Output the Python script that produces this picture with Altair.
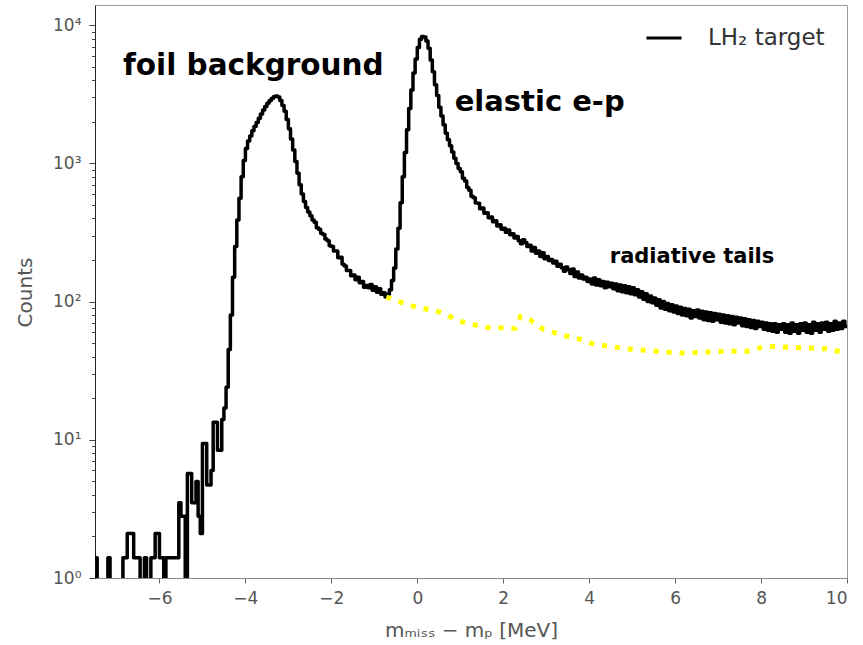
import altair as alt
import pandas as pd

# ---- data -------------------------------------------------------------
BIN_WIDTH = 0.05
# LH2 target histogram, counts per 0.05 MeV bin, in three contiguous segments
seg1_start = -7.5   # low-count region
seg1 = [
    1.4, 0, 0, 0, 0, 0, 1.4, 0, 0, 0,
    0, 0, 0, 1.4, 1.4, 2.1, 2.1, 2.1, 1.4, 1.4,
    1.4, 0, 0, 1.4, 0, 0, 1.4, 1.4, 2.1, 2.1,
    1.4, 1.4, 0, 1.4, 1.4, 1.4, 1.4, 1.4, 1.4, 3.5,
    2.8, 2.8, 0, 5.7, 5.7, 3.5, 3.5, 5.0, 2.8, 2.1,
    9.4, 9.4, 4.7, 4.7, 6.0, 13.4, 13.4, 8.4, 8.4, 14,
]
seg2_start = -4.5   # foil peak + elastic peak
seg2 = [
    17, 24, 45, 80, 150, 250, 390, 560, 800, 1050,
    1280, 1450, 1580, 1720, 1850, 1980, 2120, 2280, 2430, 2580,
    2720, 2840, 2950, 3040, 3080, 3020, 2850, 2620, 2380, 2080,
    1780, 1500, 1250, 1030, 850, 700, 600, 530, 480, 445,
    418, 390, 375, 342, 334, 312, 306, 284, 276, 254,
    250, 232, 232, 208, 209, 186, 181, 168, 168, 154,
    156, 144, 150, 137, 140, 127, 131, 126, 133, 121,
    128, 117, 124, 113, 116, 108, 113, 122, 142, 175,
    240, 340, 520, 800, 1200, 1750, 2500, 3400, 4500, 5700,
    6900, 7900, 8300, 8200, 7700, 6800, 5600, 4600, 3700, 3100,
    2550, 2200, 1900, 1650, 1480, 1340, 1210, 1090, 1000, 920,
    870, 780, 745, 668, 640, 578, 565, 518, 515, 470,
    475, 435, 440, 405, 410, 378, 385, 352, 360, 334,
]
seg3_start = 2.0    # radiative tail
seg3 = [
    340, 318, 330, 304, 310, 288, 296, 276, 262, 280,
    268, 250, 256, 232, 246, 224, 232, 212, 226, 204,
    212, 198, 202, 190, 196, 180, 186, 176, 166, 178,
    170, 160, 172, 152, 164, 148, 156, 146, 150, 140,
    146, 134, 148, 132, 144, 130, 140, 126, 138, 128,
    136, 124, 134, 120, 132, 118, 130, 116, 128, 114,
    126, 112, 122, 108, 118, 104, 114, 100, 110, 98,
    106, 94, 103, 90, 100, 88, 97, 86, 95, 84,
    93, 82, 91, 80, 89, 79, 88, 76, 86, 78,
    87, 76, 85, 74, 84, 73, 83, 72, 82, 74,
    81, 71, 80, 70, 79, 69, 78, 68, 77, 70,
    76, 67, 75, 66, 74, 65, 73, 64, 72, 66,
    71, 63, 70, 62, 69, 61, 69, 60, 68, 63,
    69, 60, 68, 59, 70, 61, 68, 59, 69, 62,
    70, 60, 68, 59, 71, 62, 69, 60, 70, 63,
    71, 61, 69, 62, 72, 63, 70, 64, 72, 66,
]

# radiative-tail estimate (yellow dotted)
tail_x = [-0.72, -0.18, 0.52, 1.06, 1.61, 2.0, 2.27, 2.4, 2.62, 2.93, 3.39,
          3.74, 4.09, 4.87, 6.11, 7.2, 7.67, 7.98, 8.29, 9.53, 9.92]
tail_y = [108, 94, 84, 71, 65, 64.5, 64, 78, 74, 63, 57,
          54, 49.5, 45.5, 42.4, 43.7, 43.7, 46.4, 47.3, 45.5, 43]

# annotations
ann_text = ["foil background", "elastic e-p", "radiative tails"]
ann_x = [-6.85, 0.87, 4.48]
ann_y = [4360, 2400, 191]
ann_size = [29.5, 29, 21]

x_ticks = [-6, -4, -2, 0, 2, 4, 6, 8, 10]
y_ticks = [1, 10, 100, 1000, 10000]
y_minor = [2, 3, 4, 5, 6, 7, 8, 9,
           20, 30, 40, 50, 60, 70, 80, 90,
           200, 300, 400, 500, 600, 700, 800, 900,
           2000, 3000, 4000, 5000, 6000, 7000, 8000, 9000]

X_DOMAIN = [-7.5, 10]
Y_DOMAIN = [1, 14000]
LEGEND_LABEL = "LH₂ target"

# ---- tables -----------------------------------------------------------
rows = []
for start, seg in [(seg1_start, seg1), (seg2_start, seg2), (seg3_start, seg3)]:
    for i, c in enumerate(seg):
        rows.append((round(start + i * BIN_WIDTH, 4), c if c > 0 else 0.3))
rows.append((round(rows[-1][0] + BIN_WIDTH, 4), rows[-1][1]))
hist_df = pd.DataFrame(rows, columns=["x", "y"])
hist_df["series"] = LEGEND_LABEL
tail_df = pd.DataFrame({"x": tail_x, "y": tail_y})
ann_df = pd.DataFrame({"text": ann_text, "x": ann_x, "y": ann_y, "size": ann_size})
minor_df = pd.DataFrame({"y": y_minor})

FONT = "DejaVu Sans"
xs = alt.Scale(domain=X_DOMAIN, nice=False, zero=False)
ys = alt.Scale(type="log", domain=Y_DOMAIN, nice=False)

label_expr = ("datum.value == 1 ? '10⁰' : datum.value == 10 ? '10¹' : "
              "datum.value == 100 ? '10²' : datum.value == 1000 ? '10³' : '10⁴'")

hist = alt.Chart(hist_df).mark_line(
    interpolate="step-after", strokeWidth=3.5, clip=True, strokeJoin="round"
).encode(
    x=alt.X("x:Q", scale=xs, axis=alt.Axis(
        values=x_ticks, title="mₘᵢₛₛ − mₚ [MeV]", titleFontSize=20,
        titleY=52, titleBaseline="middle", grid=False,
        titleFont=FONT, titleFontWeight="normal", titleColor="#555",
        labelFont=FONT, labelColor="#555",
        labelFontSize=17, labelPadding=7, tickSize=5,
        domainColor="#888", tickColor="#666")),
    y=alt.Y("y:Q", scale=ys, axis=alt.Axis(
        values=y_ticks, labelExpr=label_expr, title="Counts", titleFontSize=20,
        titleX=-70, titleY=287, titleAngle=-90, titleAlign="center", titleBaseline="middle",
        titleFont=FONT, titleFontWeight="normal", titleColor="#555",
        labelFont=FONT, labelColor="#555", grid=False, orient="left",
        labelFontSize=17, labelPadding=8, tickSize=6,
        domainColor="#222", tickColor="#444")),
    color=alt.Color("series:N", scale=alt.Scale(domain=[LEGEND_LABEL], range=["black"]),
                    legend=alt.Legend(title=None, orient="none", legendX=550, legendY=14,
                                      symbolType="stroke", symbolSize=1225,
                                      symbolStrokeWidth=3, labelFontSize=23,
                                      labelFont=FONT, labelColor="#333",
                                      labelOffset=25, padding=0)),
)

tail = alt.Chart(tail_df).mark_line(
    color="#ffff00", strokeWidth=5, strokeDash=[5, 8], clip=True
).encode(x=alt.X("x:Q", scale=xs), y=alt.Y("y:Q", scale=ys, axis=None))

ann = alt.Chart(ann_df).mark_text(
    align="left", baseline="alphabetic", font=FONT, fontWeight="bold", color="black"
).encode(
    x=alt.X("x:Q", scale=xs), y=alt.Y("y:Q", scale=ys, axis=None),
    text="text:N", size=alt.Size("size:Q", scale=None, legend=None),
)

# minor log ticks drawn as a second (label-less) left axis on the same scale
minor = alt.Chart(minor_df).mark_point(opacity=0).encode(
    y=alt.Y("y:Q", scale=ys, axis=alt.Axis(
        values=y_minor, labels=False, domain=False, grid=False, ticks=True,
        tickSize=3.5, tickColor="#444", title=None, orient="left"))
)

chart = alt.layer(hist, tail, ann, minor).resolve_axis(y="independent").properties(
    width=752, height=573,
    autosize=alt.AutoSizeParams(type="none"),
    padding={"left": 95, "top": 5, "right": 16, "bottom": 67},
).configure_view(stroke="#999", strokeWidth=1).configure_axis(
    grid=False, labelFont=FONT, titleFont=FONT, labelColor="#555",
    titleColor="#555", titleFontWeight="normal"
)

chart.save("out.html", embed_options={"renderer": "svg", "actions": False})
